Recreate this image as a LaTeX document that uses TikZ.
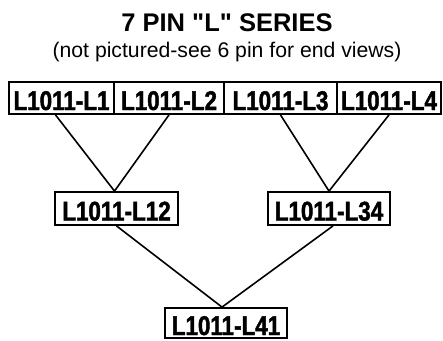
\documentclass[tikz,border=0pt]{standalone}
\usepackage{fontspec}
\setmainfont{Liberation Sans}[Ligatures=TeXOff]
\newfontfamily\condfont{Liberation Sans}[FakeStretch=0.83,FakeBold=1.6,Ligatures=TeXOff]
\usetikzlibrary{calc}
\begin{document}
\begin{tikzpicture}[x=1pt,y=1pt,
  partbox/.style={draw, line width=1.8pt, inner sep=0pt, minimum height=32pt,
    text height=24pt, text depth=0pt,
    font=\condfont\bfseries\fontsize{27pt}{29pt}\selectfont},
  link/.style={line width=1.6pt},
  titletext/.style={anchor=base, inner sep=0pt, font=\bfseries\fontsize{25.5pt}{28pt}\selectfont},
  subtext/.style={anchor=base, inner sep=0pt, font=\fontsize{21.2pt}{24pt}\selectfont}]
\useasboundingbox (0,0) rectangle (443,-340);
\fill[white] (0,0) rectangle (443,-340);

\node[titletext] (title) at (227,-31) {7 PIN "L" SERIES};
\node[subtext] (sub) at (227,-57.5) {(not pictured-see 6 pin for end views)};

\node[partbox, minimum width=105pt] (L1) at (61.5,-98) {L1011-L1};
\node[partbox, minimum width=110pt] (L2) at (169,-98) {L1011-L2};
\node[partbox, minimum width=113pt] (L3) at (280.5,-98) {L1011-L3};
\node[partbox, minimum width=104pt] (L4) at (389,-98) {L1011-L4};

\node[partbox, minimum width=123pt, minimum height=33pt] (L12) at (116.5,-208.5) {L1011-L12};
\node[partbox, minimum width=122pt, minimum height=33pt] (L34) at (329,-208.5) {L1011-L34};

\node[partbox, minimum width=122pt, minimum height=30pt] (L41) at (226,-323) {L1011-L41};

\draw[link] ($(L1.south)+(-6,0)$) -- ($(L12.north)+(-2,0)$) -- (L2.south);
\draw[link] (L3.south) -- (L34.north) -- (L4.south);
\draw[link] (L12.south) -- ($(L41.north)+(-4,0)$) -- ($(L34.south)+(4,0)$);
\end{tikzpicture}
\end{document}
